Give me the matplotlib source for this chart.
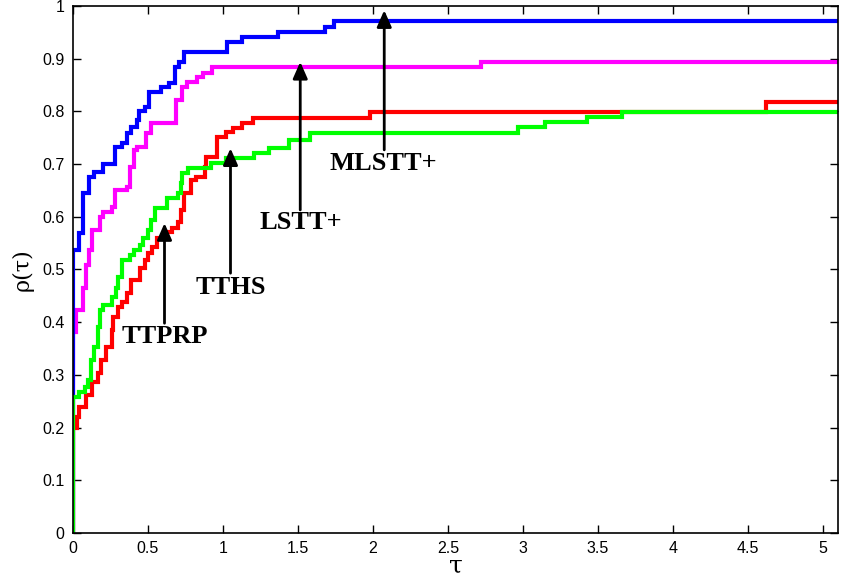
import numpy as np
import matplotlib
matplotlib.use('Agg')
import matplotlib.pyplot as plt
from matplotlib.ticker import FormatStrFormatter

# performance profile data (tau breakpoints, rho values)
tau_max = 5.1

tau_mlstt = [0, 0, 0.04, 0.065, 0.11, 0.14, 0.2, 0.28, 0.33, 0.36, 0.39, 0.43, 0.44,
             0.48, 0.51, 0.59, 0.64, 0.68, 0.71, 0.74, 1.03, 1.13, 1.37, 1.68, 1.74]
rho_mlstt = [0, 0.537, 0.569, 0.645, 0.676, 0.685, 0.70, 0.733, 0.74, 0.759, 0.77, 0.784, 0.80,
             0.809, 0.837, 0.846, 0.854, 0.885, 0.894, 0.913, 0.932, 0.941, 0.951, 0.96, 0.971]

tau_lstt = [0, 0, 0.02, 0.07, 0.09, 0.11, 0.13, 0.18, 0.2, 0.26, 0.28, 0.36, 0.38, 0.41,
            0.43, 0.49, 0.52, 0.69, 0.73, 0.76, 0.83, 0.87, 0.93, 2.72]
rho_lstt = [0, 0.381, 0.423, 0.465, 0.508, 0.537, 0.575, 0.6, 0.609, 0.619, 0.651, 0.657, 0.695, 0.727,
            0.733, 0.759, 0.778, 0.822, 0.846, 0.856, 0.865, 0.873, 0.885, 0.894]

tau_ttprp = [0, 0, 0.03, 0.04, 0.09, 0.13, 0.17, 0.19, 0.22, 0.26, 0.27, 0.3, 0.33, 0.36,
             0.39, 0.45, 0.48, 0.5, 0.53, 0.56, 0.62, 0.66, 0.7, 0.72, 0.74, 0.79, 0.82,
             0.88, 0.89, 0.96, 1.02, 1.07, 1.13, 1.2, 1.98, 4.62]
rho_ttprp = [0, 0.2, 0.22, 0.239, 0.262, 0.287, 0.303, 0.328, 0.353, 0.385, 0.41, 0.429, 0.438, 0.455,
             0.48, 0.503, 0.518, 0.531, 0.543, 0.56, 0.571, 0.579, 0.59, 0.613, 0.645, 0.67, 0.676,
             0.695, 0.714, 0.752, 0.761, 0.768, 0.778, 0.787, 0.799, 0.818]

tau_tths = [0, 0, 0.04, 0.08, 0.1, 0.12, 0.14, 0.17, 0.18, 0.2, 0.26, 0.29, 0.3, 0.33,
            0.38, 0.41, 0.45, 0.47, 0.5, 0.52, 0.55, 0.63, 0.7, 0.72, 0.73, 0.77, 0.92,
            1.02, 1.21, 1.31, 1.44, 1.58, 2.97, 3.15, 3.43, 3.66]
rho_tths = [0, 0.258, 0.268, 0.277, 0.29, 0.328, 0.353, 0.391, 0.423, 0.433, 0.448, 0.465, 0.486, 0.518,
            0.528, 0.537, 0.546, 0.56, 0.575, 0.594, 0.617, 0.635, 0.645, 0.664, 0.683, 0.692, 0.702,
            0.711, 0.721, 0.73, 0.746, 0.759, 0.77, 0.78, 0.789, 0.799]

# label text, label position, arrow tail -> tip
labels = ['MLSTT+', 'LSTT+', 'TTHS', 'TTPRP']
label_xy = [(2.07, 0.702), (1.52, 0.59), (1.05, 0.465), (0.61, 0.372)]
arrow_x = [2.075, 1.515, 1.05, 0.61]
arrow_from = [0.727, 0.613, 0.493, 0.398]
arrow_to = [0.992, 0.894, 0.73, 0.588]


def extend(t, r):
    return np.append(t, tau_max), np.append(r, r[-1])


fig = plt.figure(figsize=(8.41, 5.77), dpi=100)
ax = fig.add_axes([0.0868, 0.0763, 0.9096, 0.9133])

series = [(tau_lstt, rho_lstt, '#ff00ff'),
          (tau_mlstt, rho_mlstt, '#0000ff'),
          (tau_ttprp, rho_ttprp, '#ff0000'),
          (tau_tths, rho_tths, '#00ff00')]
for t, r, c in series:
    tt, rr = extend(t, r)
    ax.plot(tt, rr, drawstyle='steps-post', color=c, lw=3, solid_joinstyle='miter')

for lab, (lx, ly), ax_x, y0, y1 in zip(labels, label_xy, arrow_x, arrow_from, arrow_to):
    ax.annotate('', xy=(ax_x, y1), xytext=(ax_x, y0),
                arrowprops=dict(arrowstyle='-|>,head_length=0.5,head_width=0.22',
                                color='black', lw=2,
                                mutation_scale=20, shrinkA=0, shrinkB=0))
    ax.text(lx, ly, lab, ha='center', va='center', fontsize=19,
            fontweight='bold', family='Liberation Serif')

ax.set_xlim(0, tau_max)
ax.set_ylim(0, 1)
ax.set_xticks(np.arange(0, 5.01, 0.5))
ax.set_yticks(np.arange(0, 1.01, 0.1))
ax.xaxis.set_major_formatter(FormatStrFormatter('%g'))
ax.yaxis.set_major_formatter(FormatStrFormatter('%g'))
ax.tick_params(direction='in', top=True, right=True, length=6, width=1,
               labelsize=11.5, pad=6)
for lbl in ax.get_xticklabels() + ax.get_yticklabels():
    lbl.set_family('Liberation Sans')
for s in ax.spines.values():
    s.set_linewidth(1.2)

ax.set_xlabel(u'\u03c4', fontsize=18, labelpad=-1, family='DejaVu Serif')
ax.set_ylabel(u'\u03c1(\u03c4)', fontsize=16, labelpad=6, family='DejaVu Serif')

plt.savefig('out.png', dpi=100)
plt.close()
